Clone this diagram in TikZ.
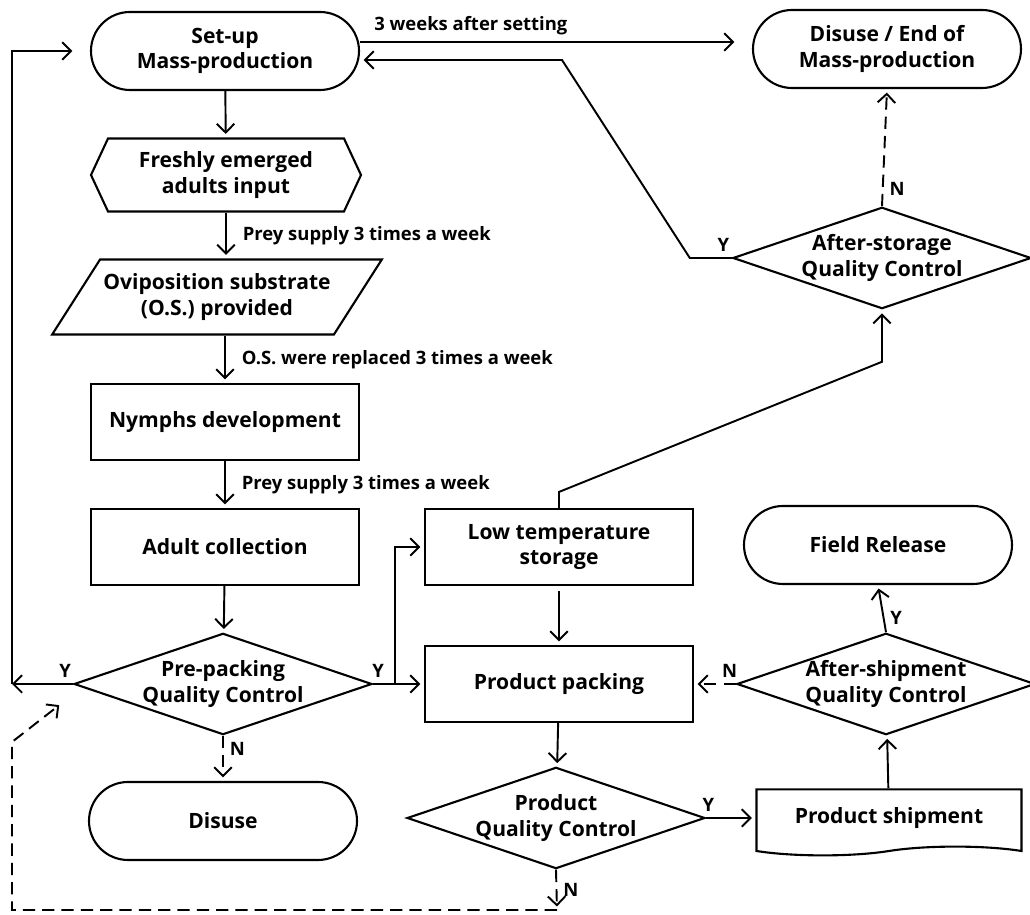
\documentclass[tikz,border=0pt]{standalone}
\usepackage{fontspec}
\setmainfont{Open Sans}
\usepackage{tikz}
\usetikzlibrary{shapes,shapes.geometric,shapes.misc,shapes.symbols,arrows,arrows.meta}

\begin{document}
\begin{tikzpicture}[>={Straight Barb[length=5pt,width=10pt]},
  box/.style={font=\bfseries\fontsize{12}{14.5}\selectfont, draw, line width=1.2pt, align=center, inner sep=0pt},
  terminal/.style={box, rounded rectangle, minimum width=5.36cm, minimum height=1.56cm},
  process/.style={box, rectangle, minimum width=5.36cm, minimum height=1.52cm},
  decision/.style={box, diamond, aspect=2.94, minimum width=5.7cm, minimum height=1.94cm},
  inputbox/.style={box, signal, signal to=west and east, signal pointer angle=130, minimum width=5.4cm, minimum height=1.46cm},
  substrate/.style={box, trapezium, trapezium left angle=45, trapezium right angle=135, trapezium stretches=true, minimum width=6.6cm, minimum height=1.5cm},
  shipbox/.style={box, tape, tape bend top=none, tape bend bottom=in and out, minimum width=5.3cm, minimum height=1.32cm},
  note/.style={font=\bfseries\fontsize{10.5}{12}\selectfont},
  flow/.style={->, line width=1.1pt, shorten >=2pt},
  dashflow/.style={flow, dash pattern=on 7pt off 4pt}]
\useasboundingbox (0,0) rectangle (20.6,18.3);
%left column
\node[terminal] (setup) at (4.5,17.28) {Set-up\\Mass-production};
\node[inputbox] (fresh) at (4.52,14.8) {Freshly emerged\\adults input};
\node[substrate] (ovi) at (4.34,12.36) {Oviposition substrate\\(O.S.) provided};
\node[process] (nymph) at (4.5,9.86) {Nymphs development};
\node[process] (adult) at (4.5,7.36) {Adult collection};
\node[decision] (preqc) at (4.46,4.62) {Pre-packing\\Quality Control};
\node[terminal] (disuse) at (4.46,1.88) {Disuse};
%middle column
\node[process] (store) at (11.18,7.36) {Low temperature\\storage};
\node[process] (pack) at (11.18,4.62) {Product packing};
\node[decision] (prodqc) at (11.12,1.94) {Product\\Quality Control};
%right column
\node[terminal] (endp) at (17.74,17.32) {Disuse / End of\\Mass-production};
\node[decision] (storqc) at (17.64,13.14) {After-storage\\Quality Control};
\node[terminal] (field) at (17.56,7.4) {Field Release};
\node[decision] (shipqc) at (17.72,4.62) {After-shipment\\Quality Control};
\node[shipbox] (ship) at (17.78,1.94) {Product shipment};
\coordinate (cornerL) at (0.24,4.62);
\coordinate (branch) at (7.9,4.62);
\coordinate (bend) at (11.24,17.1);
\coordinate (loopR) at (11.14,0.1);
\coordinate (loopL) at (0.24,0.1);
\coordinate (loopU) at (0.24,3.46);
\coordinate (loopE) at (1.24,4.24);

\draw [flow] (setup) edge (fresh);
\draw [flow] (fresh.south) -- node[note, right, xshift=0.2cm] {Prey supply 3 times a week} (fresh.south |- ovi.north);
\draw [flow] (nymph.north |- ovi.south) -- node[note, right, xshift=0.2cm] {O.S. were replaced 3 times a week} (nymph);
\draw [flow] (nymph) -- node[note, right, xshift=0.2cm] {Prey supply 3 times a week} (adult);
\draw [flow] (adult) edge (preqc);
\draw [->, line width=1.1pt] (preqc.west) -- node[note, pos=0.13, above] {Y} (cornerL);
\draw [flow, shorten >=10pt] (cornerL) |- (setup.west);
\draw [flow] (preqc.east) -- node[note, pos=0.1, above] {Y} (pack.west);
\draw [flow] (branch) |- (store.west);
\draw [dashflow] (preqc.south) -- node[note, pos=0.3, right] {N} (disuse.north);
\draw [flow, shorten <=3pt] (store) edge (pack);
\draw [flow] (store.north) -- ++(0,0.32) -- ([yshift=-1.04cm]storqc.south) -- (storqc.south);
\draw [flow] (storqc.west) -- node[note, pos=0.2, above] {Y} ++(-0.84,0) -- (bend) -- ([yshift=-0.18cm]setup.east);
\draw [flow, shorten >=10pt] ([yshift=0.18cm]setup.east) -- node[note, pos=0, anchor=south west, xshift=0.15cm] {3 weeks after setting} ([yshift=0.18cm]setup.east -| endp.west);
\draw [dashflow] (storqc.north) -- node[note, pos=0.15, right] {N} (endp.south);
\draw [flow] (pack) edge (prodqc);
\draw [flow] (prodqc.east) -- node[note, pos=0.05, above] {Y} (ship.west);
\draw [dashflow] (prodqc.south) -- node[note, pos=0.5, right] {N} (loopR);
\draw [dashflow] (loopR) -- (loopL) -- (loopU) -- (loopE);
\draw [flow] (ship) edge (shipqc);
\draw [flow] (shipqc.north) -- node[note, pos=0.3, right] {Y} (field.south);
\draw [dashflow] (shipqc.west) -- node[note, pos=0.15, above] {N} (pack.east);
\end{tikzpicture}
\end{document}
